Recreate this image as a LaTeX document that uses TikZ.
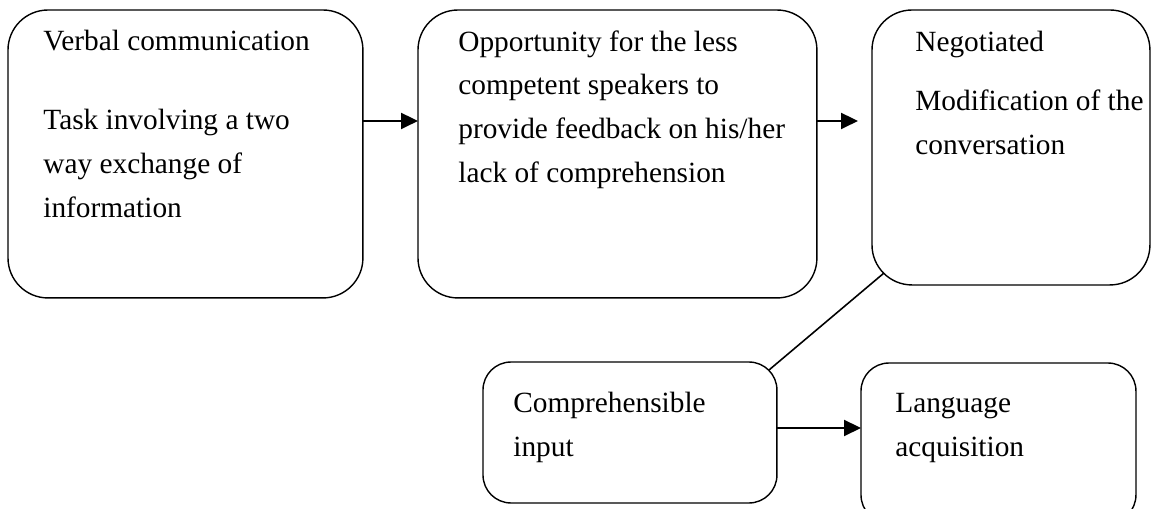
\documentclass[tikz,border=0pt]{standalone}
\usepackage{fontspec}
\setmainfont{Liberation Serif}
\usetikzlibrary{arrows.meta,positioning,calc}
\tikzset{
  % rounded box, upper row
  bigbox/.style={
    draw,
    line width=0.8pt,
    rounded corners=0.8cm,
    anchor=north west,
    inner sep=0pt,
    outer sep=0pt,
    minimum height=5.76cm
  },
  % rounded box, lower row
  smallbox/.style={bigbox, rounded corners=0.56cm, minimum height=2.82cm},
  % text inside the boxes
  boxtext/.style={
    anchor=north west,
    inner sep=0pt,
    align=left,
    font=\fontsize{16.7}{25}\selectfont
  },
  % arrows
  arr/.style={-{Triangle[length=0.34cm, width=0.32cm]}, line width=1.2pt},
}

\begin{document}
\begin{tikzpicture}[x=0.02cm, y=-0.02cm]
    \useasboundingbox (0,0) rectangle (1153,508);

    % Upper row
    \node[bigbox, minimum width=7.1cm] (verbal) at (8,10) {};
    \node[bigbox, minimum width=7.98cm] (chance) at (418,10) {};
    \node[bigbox, minimum width=5.56cm, minimum height=5.5cm] (negot) at (872,10) {};

    % Lower row
    \node[smallbox, minimum width=5.88cm] (input) at (483,362) {};
    \node[smallbox, minimum width=5.5cm, minimum height=3.2cm] (acquis) at (861,363) {};

    % Texts
    \node[boxtext] (verbaltxt) at ([shift={(35,20)}]verbal.north west)
        {Verbal communication\\[0.7cm] Task involving a two\\ way exchange of\\ information};
    \node[boxtext] (chancetxt) at ([shift={(40,20)}]chance.north west)
        {Opportunity for the less\\ competent speakers to\\ provide feedback on his/her\\ lack of comprehension};
    \node[boxtext] (negottxt) at ([shift={(43,21)}]negot.north west)
        {Negotiated\\[0.3cm] Modification of the\\ conversation};
    \node[boxtext] (inputtxt) at ([shift={(30,30)}]input.north west)
        {Comprehensible\\ input};
    \node[boxtext] (acquistxt) at ([shift={(34,30)}]acquis.north west)
        {Language\\ acquisition};

    % Arrows
    \draw[arr] ($(verbal.east)+(0,-33)$) coordinate (a1) -- (a1 -| chance.west);
    \draw[arr, shorten >=0.28cm] ($(chance.east)+(0,-33)$) coordinate (a2) -- (a2 -| negot.west);
    \draw[arr] ($(input.east)+(0,-4.5)$) coordinate (a3) -- (a3 -| acquis.west);

    % Link between Negotiated and Comprehensible input
    \draw[line width=0.9pt] ($(negot.south west)+(11.7,-11.7)$) -- ($(input.north east)+(-8.2,8.2)$);
\end{tikzpicture}
\end{document}
